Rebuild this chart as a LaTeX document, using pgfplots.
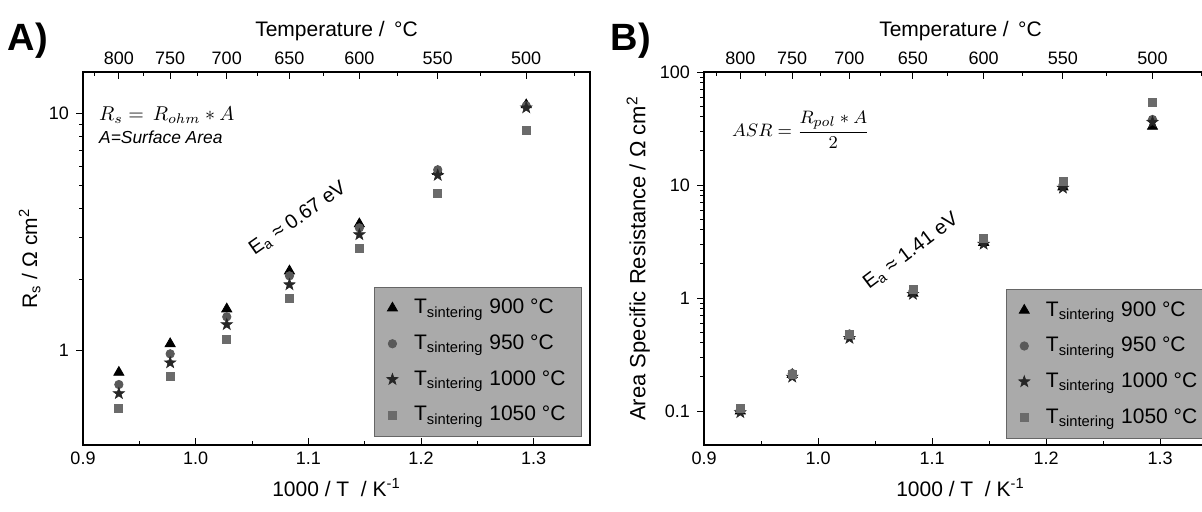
\documentclass[border=0pt]{standalone}
\usepackage{pgfplots}
\pgfplotsset{compat=1.18}
\usepackage{fontspec}
\setmainfont{Liberation Sans}
\definecolor{leggray}{RGB}{170,170,170}
\pgfdeclareplotmark{fstar}{%
  \pgfpathmoveto{\pgfqpoint{0pt}{\pgfplotmarksize}}%
  \pgfpathlineto{\pgfqpoint{-0.2351\pgfplotmarksize}{0.3236\pgfplotmarksize}}%
  \pgfpathlineto{\pgfqpoint{-0.9511\pgfplotmarksize}{0.3090\pgfplotmarksize}}%
  \pgfpathlineto{\pgfqpoint{-0.3804\pgfplotmarksize}{-0.1236\pgfplotmarksize}}%
  \pgfpathlineto{\pgfqpoint{-0.5878\pgfplotmarksize}{-0.8090\pgfplotmarksize}}%
  \pgfpathlineto{\pgfqpoint{0pt}{-0.4\pgfplotmarksize}}%
  \pgfpathlineto{\pgfqpoint{0.5878\pgfplotmarksize}{-0.8090\pgfplotmarksize}}%
  \pgfpathlineto{\pgfqpoint{0.3804\pgfplotmarksize}{-0.1236\pgfplotmarksize}}%
  \pgfpathlineto{\pgfqpoint{0.9511\pgfplotmarksize}{0.3090\pgfplotmarksize}}%
  \pgfpathlineto{\pgfqpoint{0.2351\pgfplotmarksize}{0.3236\pgfplotmarksize}}%
  \pgfpathclose\pgfusepathqfillstroke}
\pgfplotsset{
  every axis/.append style={
    scale only axis, anchor=south west,
    xmin=0.9, xmax=1.35,
    tick label style={font=\fontsize{9}{10}\selectfont},
    label style={font=\fontsize{10.5}{12}\selectfont},
    /pgf/number format/assume math mode=true,
    major tick length=3.5pt, minor tick length=2pt,
    tick style={black, line width=0.5pt},
    axis line style={line width=0.7pt},
    tick align=inside,
  },
  sA/.style={only marks, mark=triangle*, mark size=2.9pt, black, mark options={fill=black}},
  sB/.style={only marks, mark=*, mark size=2.1pt, draw=black!65, fill=black!65},
  sC/.style={only marks, mark=fstar, mark size=3.0pt, draw=black!85, fill=black!85, mark options={line width=0.3pt}},
  sD/.style={only marks, mark=square*, mark size=2.0pt, draw=black!58, fill=black!58},
  legsty/.style={legend style={font=\fontsize{10.5}{12}\selectfont,
    fill=leggray, draw=black!60, inner xsep=6pt, inner ysep=4pt, row sep=5pt,
    /tikz/every odd column/.append style={column sep=6pt}},
    legend cell align=left},
}
\begin{document}
\begin{tikzpicture}
\useasboundingbox (0pt,0pt) rectangle (601pt,255.5pt);
\clip (0pt,0pt) rectangle (601pt,255.5pt);
% ---------------- Panel A ----------------
\begin{axis}[at={(41.5pt,33pt)}, width=253.5pt, height=186.5pt,
  ymode=log, ymin=0.4, ymax=15,
  xtick={0.9,1.0,1.1,1.2,1.3}, xticklabels={0.9,1.0,1.1,1.2,1.3},
  minor xtick={0.95,1.05,1.15,1.25,1.35},
  xtick pos=bottom, ymajorticks=false, yminorticks=false,
  xlabel={1000 / T \ / K\textsuperscript{-1}},
  legsty, legend style={at={(0.984,0.424)}, anchor=north east},
]
\addplot[sA] coordinates {(0.93183,0.81) (0.97737,1.07) (1.02759,1.50) (1.08325,2.17) (1.14528,3.43) (1.21485,5.7) (1.29341,10.9)};
\addplot[sB] coordinates {(0.93183,0.72) (0.97737,0.97) (1.02759,1.39) (1.08325,2.07) (1.14528,3.30) (1.21485,5.8) (1.29341,10.8)};
\addplot[sC] coordinates {(0.93183,0.66) (0.97737,0.89) (1.02759,1.29) (1.08325,1.90) (1.14528,3.09) (1.21485,5.5) (1.29341,10.6)};
\addplot[sD] coordinates {(0.93183,0.57) (0.97737,0.78) (1.02759,1.12) (1.08325,1.67) (1.14528,2.70) (1.21485,4.6) (1.29341,8.5)};
\addlegendentry{T\textsubscript{sintering} 900 °C}
\addlegendentry{T\textsubscript{sintering} 950 °C}
\addlegendentry{T\textsubscript{sintering} 1000 °C}
\addlegendentry{T\textsubscript{sintering} 1050 °C}
\node[anchor=west, font=\fontsize{10}{12}\selectfont] at (rel axis cs:0.018,0.885) {$R_s =\, R_{ohm} * A$};
\node[anchor=west, font=\itshape\fontsize{8.7}{10}\selectfont] at (rel axis cs:0.018,0.826) {A=Surface Area};
\node[rotate=35, font=\fontsize{10}{12}\selectfont] at (axis cs:1.0908,3.6) {E\textsubscript{a} ≈ 0.67 eV};
\end{axis}
% y axis of A (outside ticks)
\begin{axis}[at={(41.5pt,33pt)}, width=253.5pt, height=186.5pt,
  ymode=log, ymin=0.4, ymax=15, axis x line=none, axis y line*=left,
  tick align=outside,
  ytick={1,10}, yticklabels={1,10},
  ylabel={R\textsubscript{s} / Ω cm\textsuperscript{2}},
  ylabel style={at={(axis description cs:-0.105,0.5)}, anchor=center}]
\addplot[draw=none] coordinates {(1,1)};
\end{axis}
% top axis of A
\begin{axis}[at={(41.5pt,33pt)}, width=253.5pt, height=186.5pt,
  ymin=0, ymax=1, axis x line*=top, axis y line=none,
  xtick={0.93183,0.97737,1.02759,1.08325,1.14528,1.21485,1.29341},
  xticklabels={800,750,700,650,600,550,500},
  minor xtick={0.91062,0.95406,1.00185,1.05469,1.11340,1.17904,1.25290,1.33663},
  xlabel={Temperature / \,°C}, xlabel style={yshift=-1pt}]
\addplot[draw=none] coordinates {(1,0.5)};
\end{axis}
\node[font=\fontsize{19}{20}\selectfont\bfseries] at (14pt,235pt) {A)};
% ---------------- Panel B ----------------
\begin{axis}[at={(352pt,33pt)}, width=256.5pt, height=186.5pt,
  ymode=log, ymin=0.05, ymax=100,
  xtick={0.9,1.0,1.1,1.2,1.3}, xticklabels={0.9,1.0,1.1,1.2,1.3},
  minor xtick={0.95,1.05,1.15,1.25,1.35},
  xtick pos=bottom, ymajorticks=false, yminorticks=false,
  xlabel={1000 / T \ / K\textsuperscript{-1}},
  legsty, legend style={at={(0.589,0.418)}, anchor=north west},
]
\addplot[sA] coordinates {(0.93183,0.100) (0.97737,0.21) (1.02759,0.46) (1.08325,1.10) (1.14528,3.1) (1.21485,9.6) (1.29341,33)};
\addplot[sB] coordinates {(0.93183,0.102) (0.97737,0.215) (1.02759,0.48) (1.08325,1.15) (1.14528,3.2) (1.21485,10.0) (1.29341,38)};
\addplot[sC] coordinates {(0.93183,0.097) (0.97737,0.20) (1.02759,0.44) (1.08325,1.08) (1.14528,3.0) (1.21485,9.4) (1.29341,36)};
\addplot[sD] coordinates {(0.93183,0.105) (0.97737,0.21) (1.02759,0.48) (1.08325,1.20) (1.14528,3.4) (1.21485,10.8) (1.29341,54)};
\addlegendentry{T\textsubscript{sintering} 900 °C}
\addlegendentry{T\textsubscript{sintering} 950 °C}
\addlegendentry{T\textsubscript{sintering} 1000 °C}
\addlegendentry{T\textsubscript{sintering} 1050 °C}
\node[anchor=west, font=\fontsize{9.5}{11}\selectfont] at (rel axis cs:0.041,0.845) {$\displaystyle ASR = \frac{R_{pol} * A}{2}$};
\node[rotate=37, font=\fontsize{10}{12}\selectfont] at (axis cs:1.0816,2.58) {E\textsubscript{a} ≈ 1.41 eV};
\end{axis}
% y axis of B
\begin{axis}[at={(352pt,33pt)}, width=256.5pt, height=186.5pt,
  ymode=log, ymin=0.05, ymax=100, axis x line=none, axis y line*=left,
  tick align=outside,
  ytick={0.1,1,10,100}, yticklabels={0.1,1,10,100},
  ylabel={Area Specific Resistance / Ω cm\textsuperscript{2}},
  ylabel style={at={(axis description cs:-0.128,0.5)}, anchor=center, font=\fontsize{11}{12}\selectfont}]
\addplot[draw=none] coordinates {(1,1)};
\end{axis}
% top axis of B
\begin{axis}[at={(352pt,33pt)}, width=256.5pt, height=186.5pt,
  ymin=0, ymax=1, axis x line*=top, axis y line=none,
  xtick={0.93183,0.97737,1.02759,1.08325,1.14528,1.21485,1.29341},
  xticklabels={800,750,700,650,600,550,500},
  minor xtick={0.91062,0.95406,1.00185,1.05469,1.11340,1.17904,1.25290,1.33663},
  xlabel={Temperature / \,°C}, xlabel style={yshift=-1pt}]
\addplot[draw=none] coordinates {(1,0.5)};
\end{axis}
\node[font=\fontsize{19}{20}\selectfont\bfseries] at (315.5pt,235pt) {B)};
\end{tikzpicture}
\end{document}
